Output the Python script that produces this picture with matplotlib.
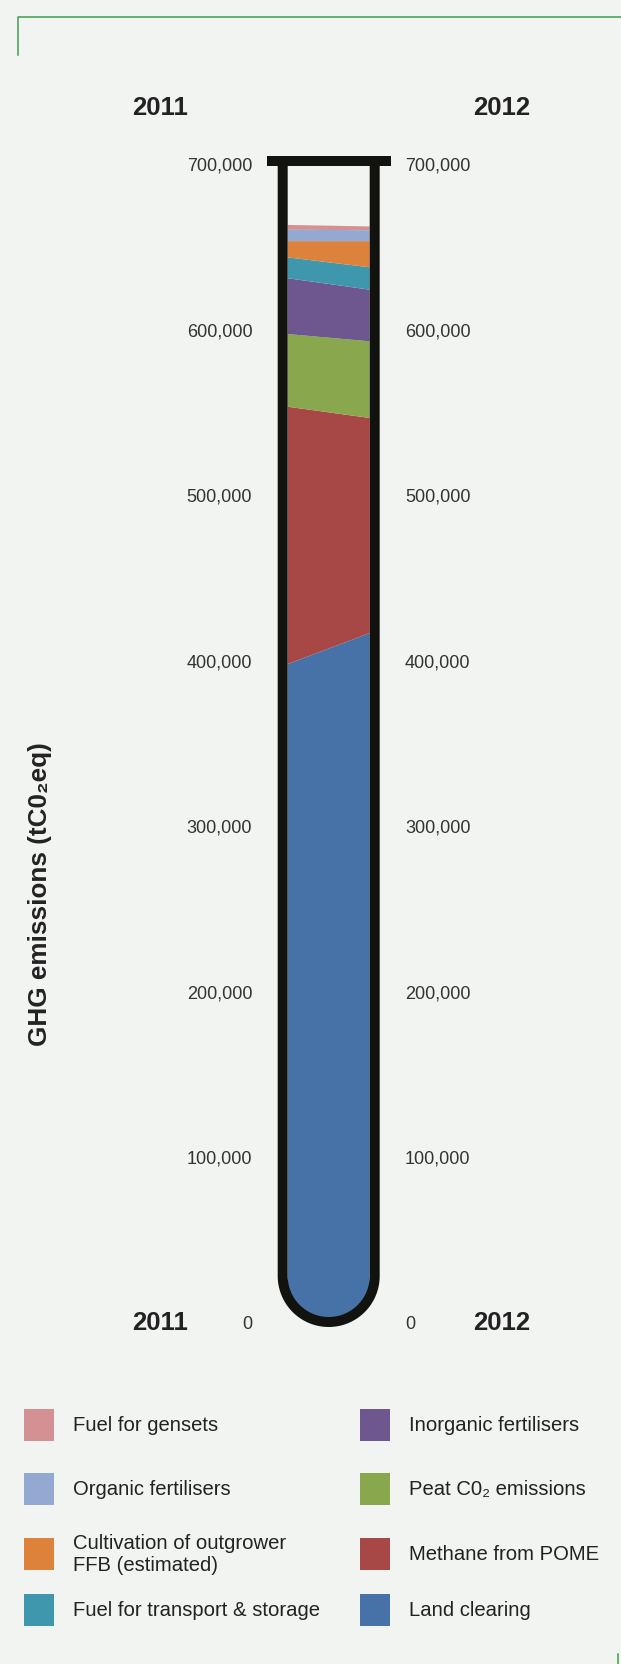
import numpy as np
import matplotlib
matplotlib.use("Agg")
import matplotlib.pyplot as plt
from matplotlib.patches import Rectangle, PathPatch
from matplotlib.path import Path
from matplotlib.ticker import FuncFormatter

years = ["2011", "2012"]
categories = [
    "Land clearing",
    "Methane from POME",
    "Peat C0\u2082 emissions",
    "Inorganic fertilisers",
    "Fuel for transport & storage",
    "Cultivation of outgrower\nFFB (estimated)",
    "Organic fertilisers",
    "Fuel for gensets",
]
land_clearing = [397400, 416100]
methane_pome = [155400, 129900]
peat_co2 = [43900, 46300]
inorganic_fert = [33700, 31200]
fuel_transport = [12600, 13500]
cultivation_ffb = [9800, 15800]
organic_fert = [6900, 6600]
fuel_gensets = [2900, 2300]
yticks = [0, 100000, 200000, 300000, 400000, 500000, 600000, 700000]

colors = ["#4772A7", "#A84846", "#89A84E", "#6E568E",
          "#3F97AE", "#DD823A", "#94A9D1", "#D39193"]

BG = "#F2F4F1"
INK = "#12130F"
TXT = "#222222"
FONT = ["Liberation Sans", "DejaVu Sans"]
plt.rcParams["font.family"] = FONT

W, H = 621, 1665
fig = plt.figure(figsize=(W / 100, H / 100), dpi=100, facecolor=BG)

# overlay in pixel coordinates (y down) for tube, texts, legend
ov = fig.add_axes([0, 0, 1, 1], zorder=2)
ov.set_xlim(0, W)
ov.set_ylim(H, 0)
ov.axis("off")
ov.patch.set_alpha(0)

# tube geometry (pixels)
in_l, in_r = 287.7, 369.7
y_zero, y_top = 1323, 164
cx = (in_l + in_r) / 2
r_in = (in_r - in_l) / 2
arc_cy = 1277
wall = 10

# data axes spanning the tube interior
ax = fig.add_axes([in_l / W, 1 - y_zero / H, (in_r - in_l) / W, (y_zero - y_top) / H], zorder=1)
ax.patch.set_alpha(0)
x = [0, 1]
polys = ax.stackplot(x, land_clearing, methane_pome, peat_co2, inorganic_fert,
                     fuel_transport, cultivation_ffb, organic_fert, fuel_gensets,
                     colors=colors, linewidth=0)
ax.set_xlim(0, 1)
ax.set_ylim(0, 700000)
ax.set_xticks([])
ax.set_yticks(yticks)
ax.yaxis.set_major_formatter(FuncFormatter(lambda v, p: f"{v:,.0f}"))
ax.tick_params(axis="y", length=0, labelsize=13, labelcolor="#333333", pad=25.5,
               left=False, right=False, labelleft=True, labelright=True)
for sp in ax.spines.values():
    sp.set_visible(False)

# clip the stack to the tube interior (a bit oversized, the wall covers the edge)
r_clip = r_in + 2
t = np.linspace(0, np.pi, 80)
arc_x = cx + r_clip * np.cos(t)
arc_y = arc_cy + r_clip * np.sin(t)
verts = [(cx + r_clip, 150)] + list(zip(arc_x, arc_y)) + [(cx - r_clip, 150), (cx + r_clip, 150)]
clip = PathPatch(Path(verts), transform=ov.transData, facecolor="none", edgecolor="none")
for p in polys:
    p.set_clip_path(clip)

# tube outline
r_mid = r_in + wall / 2
ox = [cx - r_mid] + list(cx - r_mid * np.cos(t)) + [cx + r_mid]
oy = [161] + list(arc_cy + r_mid * np.sin(t)) + [161]
ov.plot(ox, oy, color=INK, lw=wall * 0.72, solid_capstyle="butt", solid_joinstyle="round")
ov.add_patch(Rectangle((266.7, 156.5), 124, 10, color=INK, lw=0))

# green frame corners
ov.plot([18.3, 18.3, W], [56, 17.5, 17.5], color="#3E9E4A", lw=1.1)
ov.plot([618, 618], [1655, H], color="#3E9E4A", lw=1.1)

# year labels
for yy in (108, 1323):
    ov.text(160, yy, years[0], ha="center", va="center", fontsize=18.5,
            fontweight="bold", color=TXT)
    ov.text(502, yy, years[1], ha="center", va="center", fontsize=18.5,
            fontweight="bold", color=TXT)

ov.text(40, 894, "GHG emissions (tC0\u2082eq)", rotation=90, ha="center", va="center",
        fontsize=18.8, fontweight="bold", color=TXT)

# legend
row_y = [1426, 1490, 1555, 1611]
col_sq = [24, 360]
col_tx = [73, 409]
for i, (name, c) in enumerate(zip(categories[::-1], colors[::-1])):
    col, row = divmod(i, 4)
    yc = row_y[row]
    ov.add_patch(Rectangle((col_sq[col], yc - 16), 30, 32, color=c, lw=0))
    ov.text(col_tx[col], yc, name, ha="left", va="center", fontsize=14.6,
            color=TXT, linespacing=1.2)

fig.savefig("out.png", dpi=100, facecolor=BG)
